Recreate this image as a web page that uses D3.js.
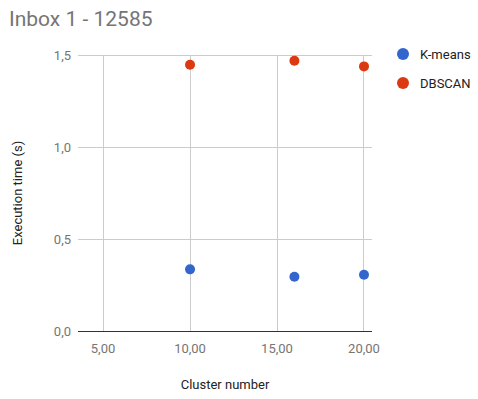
<!DOCTYPE html>
<html>
<head>
<meta charset="utf-8">
<script src="https://cdn.jsdelivr.net/npm/d3@7"></script>
<style>
  html, body { margin: 0; padding: 0; background: #fff; }
  svg { display: block; font-family: Roboto, "Noto Sans", Arial, sans-serif; }
</style>
</head>
<body>
<svg id="chart" width="478" height="399"></svg>
<script>
// Cluster counts tested and measured execution times (seconds)
const clusters = [10, 16, 20];
const kmeansTimes = [0.335, 0.295, 0.306];
const dbscanTimes = [1.447, 1.469, 1.438];
const seriesNames = ["K-means", "DBSCAN"];
const seriesColors = ["#3366cc", "#dc3912"];
const xTicks = [5, 10, 15, 20];
const yTicks = [0, 0.5, 1.0, 1.5];

const svg = d3.select("#chart");
const plot = { left: 78, right: 372, top: 55, bottom: 331 };

const x = d3.scaleLinear().domain([3.56, 20.46]).range([plot.left, plot.right]);
const y = d3.scaleLinear().domain([0, 1.5]).range([plot.bottom, plot.top]);
const fmtComma = (d, n) => d3.format("." + n + "f")(d).replace(".", ",");

// Title
svg.append("text")
  .attr("x", 9).attr("y", 26)
  .attr("font-size", 21).attr("fill", "#757575")
  .text("Inbox 1 - 12585");

// Horizontal gridlines
svg.append("g").selectAll("line").data(yTicks.filter(d => d !== 0)).join("line")
  .attr("x1", plot.left).attr("x2", plot.right)
  .attr("y1", d => y(d)).attr("y2", d => y(d))
  .attr("stroke", "#cccccc").attr("stroke-width", 1).attr("shape-rendering", "crispEdges");

// Vertical gridlines
svg.append("g").selectAll("line").data(xTicks).join("line")
  .attr("x1", d => x(d)).attr("x2", d => x(d))
  .attr("y1", plot.top).attr("y2", plot.bottom)
  .attr("stroke", "#cccccc").attr("stroke-width", 1).attr("shape-rendering", "crispEdges");

// Baseline at zero
svg.append("line")
  .attr("x1", plot.left).attr("x2", plot.right)
  .attr("y1", y(0)).attr("y2", y(0))
  .attr("stroke", "#333333").attr("stroke-width", 1).attr("shape-rendering", "crispEdges");

// Y tick labels
svg.append("g").selectAll("text").data(yTicks).join("text")
  .attr("x", 71).attr("y", d => y(d) + 4.5)
  .attr("text-anchor", "end").attr("font-size", 13).attr("fill", "#757575")
  .text(d => fmtComma(d, 1));

// X tick labels
svg.append("g").selectAll("text").data(xTicks).join("text")
  .attr("x", d => x(d)).attr("y", 353)
  .attr("text-anchor", "middle").attr("font-size", 13).attr("fill", "#757575")
  .text(d => fmtComma(d, 2));

// Axis titles
svg.append("text")
  .attr("transform", `translate(22,${(plot.top + plot.bottom) / 2}) rotate(-90)`)
  .attr("text-anchor", "middle").attr("font-size", 13).attr("fill", "#222")
  .text("Execution time (s)");

svg.append("text")
  .attr("x", (plot.left + plot.right) / 2).attr("y", 389)
  .attr("text-anchor", "middle").attr("font-size", 13).attr("fill", "#222")
  .text("Cluster number");

// Data points
const series = [kmeansTimes, dbscanTimes];
series.forEach((vals, i) => {
  svg.append("g").selectAll("circle").data(clusters).join("circle")
    .attr("cx", (d) => x(d))
    .attr("cy", (d, j) => y(vals[j]))
    .attr("r", 5)
    .attr("fill", seriesColors[i]);
});

// Legend
const legend = svg.append("g").selectAll("g").data(seriesNames).join("g")
  .attr("transform", (d, i) => `translate(403,${54 + i * 29})`);
legend.append("circle").attr("r", 6).attr("fill", (d, i) => seriesColors[i]);
legend.append("text")
  .attr("x", 17).attr("y", 4.5)
  .attr("font-size", 13).attr("fill", "#222")
  .text(d => d);
</script>
</body>
</html>
